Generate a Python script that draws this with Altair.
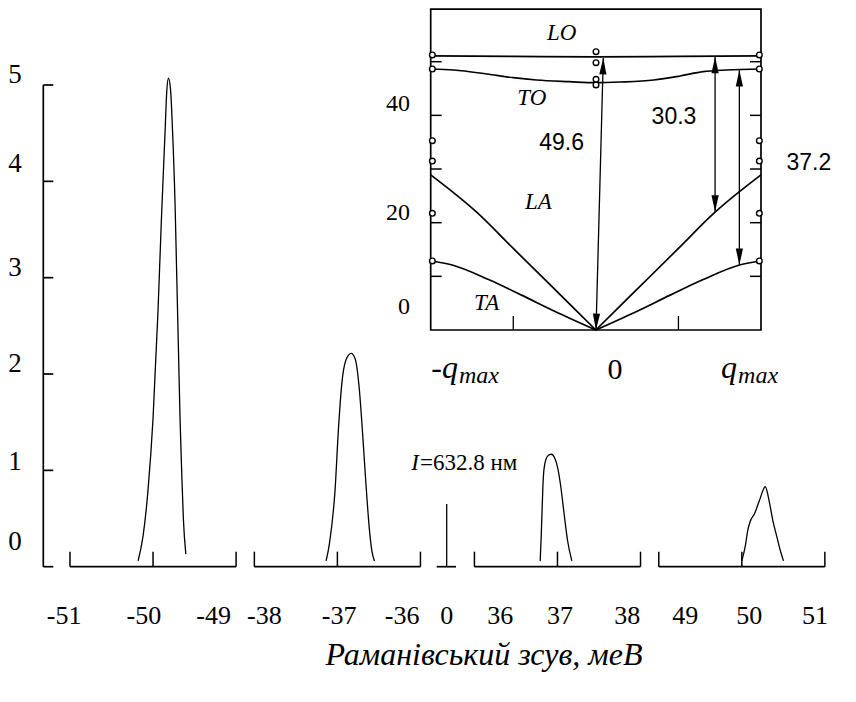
import altair as alt
import pandas as pd

# ---------------- Raman spectrum (shift in meV, intensity) ----------------
peak1_shift = [-50.18, -50.12, -50.06, -50.00, -49.94, -49.90, -49.855, -49.835, -49.815,
               -49.79, -49.765, -49.735, -49.715, -49.695, -49.675, -49.655, -49.635, -49.605]
peak1_int = [0.06, 0.32, 0.80, 1.54, 2.66, 3.59, 4.52, 4.93, 5.07,
             4.96, 4.52, 3.77, 3.03, 2.29, 1.54, 0.99, 0.50, 0.13]
peak2_shift = [-37.136, -37.096, -37.028, -36.988, -36.947, -36.895, -36.835,
               -36.787, -36.739, -36.694, -36.654, -36.614, -36.586, -36.554]
peak2_int = [0.06, 0.24, 0.80, 1.42, 1.90, 2.15, 2.215, 2.16, 1.87, 1.35, 0.83, 0.38, 0.17, 0.06]
peak3_shift = [36.792, 36.804, 36.816, 36.828, 36.848, 36.884, 36.924,
               36.968, 37.004, 37.04, 37.08, 37.12, 37.173]
peak3_int = [0.06, 0.31, 0.62, 0.90, 1.07, 1.15, 1.167, 1.125, 1.02, 0.83, 0.55, 0.28, 0.06]
peak4_shift = [50.0, 50.041, 50.072, 50.101, 50.153, 50.213, 50.282,
               50.334, 50.373, 50.422, 50.466, 50.502]
peak4_int = [0.06, 0.21, 0.38, 0.47, 0.55, 0.69, 0.83, 0.66, 0.48, 0.31, 0.16, 0.06]
laser_shift = [0.0]
laser_int = [0.65]

segment_starts = [-51, -38, 36, 49]
segment_ticks = [-51, -50, -49, -38, -37, -36, 36, 37, 38, 49, 50, 51]
x_tick_labels = ["-51", "-50", "-49", "-38", "-37", "-36", "0", "36", "37", "38", "49", "50", "51"]
x_tick_label_at = [-51.07, -50.11, -49.27, -37.88, -36.98, -36.22, 0.0,
                   36.31, 37.03, 37.84, 49.32, 50.09, 50.88]
y_ticks = [0, 1, 2, 3, 4, 5]
y_tick_labels = ["0", "1", "2", "3", "4", "5"]
y_tick_label_at = [0.26, 1.09, 2.10, 3.10, 4.18, 5.10]

# ---------------- inset: phonon dispersion ----------------
LO_q = [-1, -0.5, 0, 0.5, 1]
LO_E = [51.1, 51.0, 50.9, 51.0, 51.1]
TO_q = [-1, -0.86, -0.66, -0.5, -0.36, -0.16, 0, 0.15, 0.35, 0.51, 0.65, 0.79, 1]
TO_E = [48.64, 48.45, 47.71, 47.02, 46.59, 46.28, 46.09, 46.22, 46.59, 47.34, 48.14, 48.45, 48.64]
LA_q_left = [-1, -0.72, -0.5, -0.25, 0]
LA_E_left = [28.9, 21.9, 15.2, 7.6, 0]
LA_q_right = [0, 0.25, 0.5, 0.72, 1]
LA_E_right = [0, 7.6, 15.2, 21.9, 28.9]
TA_q_left = [-1, -0.87, -0.65, -0.45, -0.25, 0]
TA_E_left = [12.86, 12.11, 9.4, 6.5, 3.5, 0]
TA_q_right = [0, 0.25, 0.45, 0.65, 0.87, 1]
TA_E_right = [0, 3.5, 6.5, 9.4, 12.11, 12.86]

edge_marker_E = [51.25, 48.64, 35.28, 31.49, 21.75, 12.86]
center_marker_E = [51.86, 49.81, 46.72, 45.66]

arrow_names = ["49.6", "30.3", "37.2"]
arrow_q_low = [0.001, 0.722, 0.869]
arrow_E_low = [0.0, 22.05, 12.11]
arrow_q_high = [0.045, 0.722, 0.869]
arrow_E_high = [50.69, 50.9, 48.45]

inset_y_ticks = [10, 20, 30, 40, 50]
inset_y_labels = ["0", "20", "40"]
inset_y_label_at = [4.29, 21.80, 42.12]
inset_x_ticks = [-0.5, 0.5]

# ---------------- layout of the broken x axis ----------------
SEG_U0 = [0.0, 2.22, 4.87, 7.09]
LASER_U = 4.536


def to_u(v):
    if -0.5 < v < 0.5:
        return LASER_U + v
    for s, u0 in zip(segment_starts, SEG_U0):
        if s - 0.5 <= v <= s + 2.5:
            return u0 + (v - s)
    return None


XS = alt.Scale(domain=[0, 9.1], range=[62, 817.7], nice=False, zero=False)
YS = alt.Scale(domain=[0, 5], range=[558.7, 77], nice=False, zero=False)
QS = alt.Scale(domain=[-1, 1], range=[422.7, 753], nice=False, zero=False)
ES = alt.Scale(domain=[0, 50], range=[322, 53.7], nice=False, zero=False)

SERIF = "Liberation Serif"
SANS = "Liberation Sans"


def mx(f):
    return alt.X(f, type="quantitative", scale=XS, axis=None)


def my(f):
    return alt.Y(f, type="quantitative", scale=YS, axis=None)


def ix(f):
    return alt.X(f, type="quantitative", scale=QS, axis=None)


def iy(f):
    return alt.Y(f, type="quantitative", scale=ES, axis=None)


# ---- main data frames ----
rows = []
for pid, (xs, ys) in enumerate([(peak1_shift, peak1_int), (peak2_shift, peak2_int),
                                (peak3_shift, peak3_int), (peak4_shift, peak4_int)]):
    for x, y in zip(xs, ys):
        rows.append({"peak": pid, "u": to_u(x), "I": y})
spec = pd.DataFrame(rows)

seg_df = pd.DataFrame({"u0": [to_u(s) for s in segment_starts],
                       "u1": [to_u(s + 2) for s in segment_starts],
                       "I": [0] * 4})
TICK_H = 0.156
segtick_df = pd.DataFrame({"u": [to_u(t) for t in segment_ticks],
                           "I0": [0] * len(segment_ticks),
                           "I1": [TICK_H] * len(segment_ticks)})
laser_df = pd.DataFrame({"u": [to_u(v) for v in laser_shift], "I0": [0], "I1": laser_int})
laser_base_df = pd.DataFrame({"u0": [LASER_U - 0.12], "u1": [LASER_U + 0.112], "I": [0]})

AXIS_U = -0.3215
yaxis_df = pd.DataFrame({"u": [AXIS_U], "I0": [0], "I1": [5]})
ytick_df = pd.DataFrame({"u0": [AXIS_U] * 6, "u1": [AXIS_U + 0.12] * 6, "I": y_ticks})
ylab_df = pd.DataFrame({"u": [-0.662] * 6, "I": y_tick_label_at, "t": y_tick_labels})
xlab_df = pd.DataFrame({"u": [to_u(v) for v in x_tick_label_at], "I": [-0.512] * 13,
                        "t": x_tick_labels})

black = "black"
main_layers = [
    alt.Chart(spec).mark_line(color=black, strokeWidth=1.3, interpolate="monotone").encode(
        x=mx("u"), y=my("I"), detail="peak:N"),
    alt.Chart(seg_df).mark_rule(color=black, strokeWidth=1.7).encode(x=mx("u0"), x2="u1", y=my("I")),
    alt.Chart(segtick_df).mark_rule(color=black, strokeWidth=1.5).encode(x=mx("u"), y=my("I0"), y2="I1"),
    alt.Chart(laser_df).mark_rule(color=black, strokeWidth=1.3).encode(x=mx("u"), y=my("I0"), y2="I1"),
    alt.Chart(laser_base_df).mark_rule(color=black, strokeWidth=1.7).encode(x=mx("u0"), x2="u1", y=my("I")),
    alt.Chart(yaxis_df).mark_rule(color=black, strokeWidth=1.7).encode(x=mx("u"), y=my("I0"), y2="I1"),
    alt.Chart(ytick_df).mark_rule(color=black, strokeWidth=1.7).encode(x=mx("u0"), x2="u1", y=my("I")),
    alt.Chart(ylab_df).mark_text(font=SERIF, fontSize=27, align="center", baseline="middle",
                                 color=black).encode(x=mx("u"), y=my("I"), text="t:N"),
    alt.Chart(xlab_df).mark_text(font=SERIF, fontSize=26, align="center", baseline="middle",
                                 color=black).encode(x=mx("u"), y=my("I"), text="t:N"),
    alt.Chart(pd.DataFrame({"u": [4.203], "I": [1.08], "t": ["I"]})).mark_text(
        font=SERIF, fontSize=23, fontStyle="italic", align="right", baseline="middle", color=black
    ).encode(x=mx("u"), y=my("I"), text="t:N"),
    alt.Chart(pd.DataFrame({"u": [4.215], "I": [1.08], "t": ["=632.8 нм"]})).mark_text(
        font=SERIF, fontSize=23, align="left", baseline="middle", color=black
    ).encode(x=mx("u"), y=my("I"), text="t:N"),
    alt.Chart(pd.DataFrame({"u": [4.985], "I": [-0.917], "t": ["Раманівський зсув, меВ"]})).mark_text(
        font=SERIF, fontSize=32, fontStyle="italic", align="center", baseline="middle", color=black
    ).encode(x=mx("u"), y=my("I"), text="t:N"),
]
main = alt.layer(*main_layers)

# ---- inset data frames ----
disp_rows = []
for name, qs, es in [("LO", LO_q, LO_E), ("TO", TO_q, TO_E),
                     ("LA-", LA_q_left, LA_E_left), ("LA+", LA_q_right, LA_E_right),
                     ("TA-", TA_q_left, TA_E_left), ("TA+", TA_q_right, TA_E_right)]:
    for q, e in zip(qs, es):
        disp_rows.append({"branch": name, "q": q, "E": e})
disp = pd.DataFrame(disp_rows)

frame_df = pd.DataFrame({"q0": [-1], "q1": [1], "E0": [0], "E1": [59.8]})
TL = 11 / 165.15
side_tick_df = pd.DataFrame({
    "q0": [-1] * 5 + [1 - TL] * 5,
    "q1": [-1 + TL] * 5 + [1] * 5,
    "E": inset_y_ticks * 2})
bottom_tick_df = pd.DataFrame({"q": inset_x_ticks, "E0": [0, 0], "E1": [2.6, 2.6]})

marker_df = pd.DataFrame({
    "q": [-0.99] * 6 + [0.99] * 6 + [0.001] * 4,
    "E": edge_marker_E + edge_marker_E + center_marker_E})

shaft_df = pd.DataFrame({"q0": arrow_q_low, "E0": arrow_E_low, "q1": arrow_q_high, "E1": arrow_E_high})
tilt = [1.5, 0, 0]
head_df = pd.DataFrame({
    "q": arrow_q_high + arrow_q_low,
    "E": arrow_E_high + arrow_E_low,
    "dir": ["up"] * 3 + ["down"] * 3,
    "ang": tilt + tilt})
UP_PATH = "M0,0L0.44,2L-0.44,2Z"
DOWN_PATH = "M0,0L0.44,-2L-0.44,-2Z"


def itext(df, size, font=SERIF, style="normal", align="center", baseline="middle"):
    return alt.Chart(df).mark_text(font=font, fontSize=size, fontStyle=style, align=align,
                                   baseline=baseline, color=black).encode(
        x=ix("q"), y=iy("E"), text="t:N")


branch_lab_df = pd.DataFrame({"q": [-0.207, -0.388, -0.348, -0.661],
                              "E": [55.27, 43.18, 23.91, 4.98],
                              "t": ["LO", "TO", "LA", "TA"]})
num_lab_df = pd.DataFrame({"q": [-0.207, 0.473, 1.29], "E": [34.79, 39.75, 31.12],
                           "t": arrow_names})
iy_lab_df = pd.DataFrame({"q": [-1.125] * 3, "E": inset_y_label_at, "t": inset_y_labels})

inset_layers = [
    alt.Chart(frame_df).mark_rect(fillOpacity=0, stroke=black, strokeWidth=1.7).encode(
        x=ix("q0"), x2="q1", y=iy("E0"), y2="E1"),
    alt.Chart(side_tick_df).mark_rule(color=black, strokeWidth=1.5).encode(x=ix("q0"), x2="q1", y=iy("E")),
    alt.Chart(bottom_tick_df).mark_rule(color=black, strokeWidth=1.3).encode(x=ix("q"), y=iy("E0"), y2="E1"),
    alt.Chart(disp).mark_line(color=black, strokeWidth=1.7, interpolate="monotone").encode(
        x=ix("q"), y=iy("E"), detail="branch:N"),
    alt.Chart(shaft_df).mark_rule(color=black, strokeWidth=1.3).encode(
        x=ix("q0"), x2="q1", y=iy("E0"), y2="E1"),
    alt.Chart(head_df).mark_point(filled=True, color=black, size=270, opacity=1).encode(
        x=ix("q"), y=iy("E"),
        shape=alt.Shape("dir:N", scale=alt.Scale(domain=["up", "down"], range=[UP_PATH, DOWN_PATH]),
                        legend=None),
        angle=alt.Angle("ang:Q", scale=None)),
    alt.Chart(marker_df).mark_point(shape="circle", filled=True, fill="white", stroke=black,
                                    strokeWidth=1.4, size=32, opacity=1).encode(x=ix("q"), y=iy("E")),
    itext(branch_lab_df, 23, style="italic"),
    itext(num_lab_df, 23, font=SANS),
    itext(iy_lab_df, 24, align="right"),
    itext(pd.DataFrame({"q": [-0.835], "E": [-8.95], "t": ["-q"]}), 32, style="italic",
          align="right", baseline="alphabetic"),
    itext(pd.DataFrame({"q": [-0.829], "E": [-9.88], "t": ["max"]}), 24, style="italic",
          align="left", baseline="alphabetic"),
    itext(pd.DataFrame({"q": [0.116], "E": [-7.45], "t": ["0"]}), 30),
    itext(pd.DataFrame({"q": [0.855], "E": [-8.95], "t": ["q"]}), 32, style="italic",
          align="right", baseline="alphabetic"),
    itext(pd.DataFrame({"q": [0.861], "E": [-9.88], "t": ["max"]}), 24, style="italic",
          align="left", baseline="alphabetic"),
]
inset = alt.layer(*inset_layers)

chart = alt.layer(main, inset).resolve_scale(x="independent", y="independent").properties(
    width=832, height=680, autosize=alt.AutoSizeParams(type="none"), padding=0
).configure_view(stroke=None)

chart.save("out.html", embed_options={"renderer": "svg", "actions": False})
